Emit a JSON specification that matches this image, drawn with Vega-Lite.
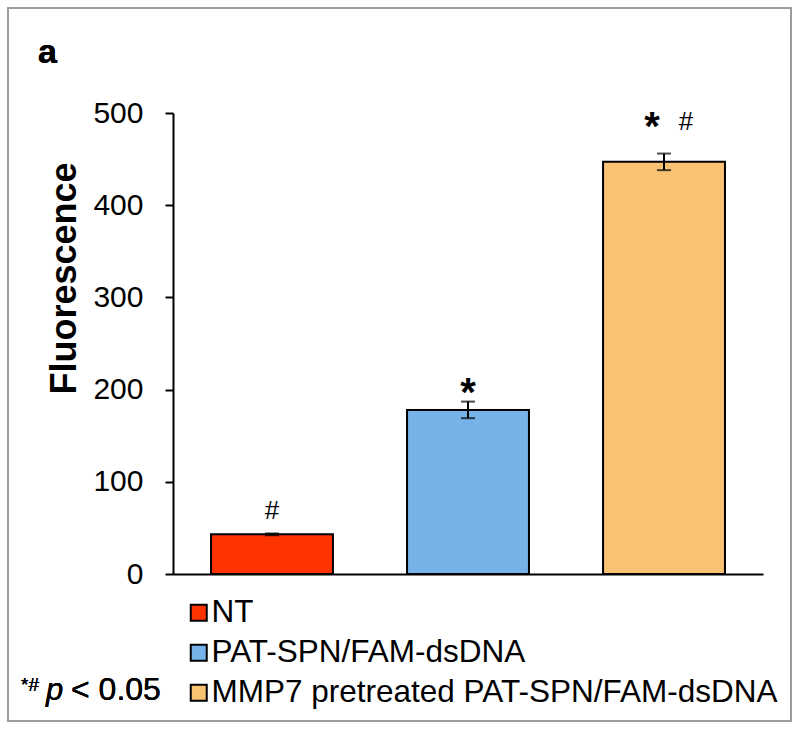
{
  "$schema": "https://vega.github.io/schema/vega-lite/v6.json",
  "width": 590,
  "height": 461,
  "autosize": {"type": "none"},
  "padding": {"left": 173, "top": 113, "right": 37, "bottom": 156},
  "background": "white",
  "config": {
    "view": {"stroke": null},
    "font": "Liberation Sans",
    "axis": {"grid": false}
  },
  "data": {
    "values": [
      {"group": "NT", "value": 43, "lo": 42, "hi": 44},
      {"group": "PAT-SPN/FAM-dsDNA", "value": 178, "lo": 169, "hi": 187},
      {"group": "MMP7 pretreated PAT-SPN/FAM-dsDNA", "value": 447, "lo": 438, "hi": 456}
    ]
  },
  "encoding": {
    "x": {
      "field": "group",
      "type": "nominal",
      "sort": null,
      "scale": {"paddingInner": 0.378, "paddingOuter": 0.194},
      "axis": {"title": null, "labels": false, "ticks": false, "domainColor": "black", "domainWidth": 2}
    }
  },
  "layer": [
    {
      "mark": {"type": "rect", "fill": null, "stroke": "#9a9a9a", "strokeWidth": 1.5},
      "encoding": {
        "x": {"value": -165},
        "x2": {"value": 618},
        "y": {"value": -105},
        "y2": {"value": 608}
      }
    },
    {
      "mark": {"type": "bar", "stroke": "black", "strokeWidth": 2},
      "encoding": {
        "y": {
          "field": "value",
          "type": "quantitative",
          "title": "Fluorescence",
          "scale": {"domain": [0, 500], "nice": false},
          "axis": {
            "titleFontSize": 36,
            "titleFontWeight": "bold",
            "titleColor": "black",
            "titleY": 165,
            "titleX": -98,
            "titleAlign": "center",
            "titleAngle": -90,
            "titleBaseline": "alphabetic",
            "values": [0, 100, 200, 300, 400, 500],
            "labelFontSize": 30,
            "labelColor": "black",
            "labelPadding": 22,
            "tickSize": 8,
            "tickColor": "black",
            "tickWidth": 2,
            "domainColor": "black",
            "domainWidth": 2
          }
        },
        "fill": {
          "field": "group",
          "type": "nominal",
          "sort": null,
          "scale": {
            "domain": ["NT", "PAT-SPN/FAM-dsDNA", "MMP7 pretreated PAT-SPN/FAM-dsDNA"],
            "range": ["#FF3300", "#74B2E8", "#F8C272"]
          },
          "legend": {
            "title": null,
            "orient": "none",
            "legendX": 10,
            "legendY": 484,
            "symbolType": "square",
            "symbolSize": 256,
            "symbolStrokeColor": "black",
            "symbolStrokeWidth": 2,
            "labelFontSize": 31.5,
            "labelColor": "black",
            "labelOffset": -3,
            "rowPadding": 7,
            "labelLimit": 800
          }
        }
      }
    },
    {
      "mark": {"type": "errorbar", "ticks": {"size": 14, "thickness": 2, "color": "black"}, "rule": {"strokeWidth": 2, "color": "black"}},
      "encoding": {
        "y": {"field": "lo", "type": "quantitative", "title": "Fluorescence"},
        "y2": {"field": "hi"}
      }
    },
    {
      "transform": [{"filter": "datum.group === 'PAT-SPN/FAM-dsDNA'"}],
      "mark": {"type": "text", "text": "*", "fontSize": 40, "fontWeight": "bold", "baseline": "alphabetic", "dy": 4, "color": "black"},
      "encoding": {
        "y": {"field": "hi", "type": "quantitative", "title": "Fluorescence"}
      }
    },
    {
      "transform": [{"filter": "datum.group === 'MMP7 pretreated PAT-SPN/FAM-dsDNA'"}],
      "mark": {"type": "text", "text": "*", "fontSize": 40, "fontWeight": "bold", "baseline": "alphabetic", "dx": -12, "dy": -14, "color": "black"},
      "encoding": {
        "y": {"field": "hi", "type": "quantitative", "title": "Fluorescence"}
      }
    },
    {
      "transform": [{"filter": "datum.group === 'NT'"}],
      "mark": {"type": "text", "text": "#", "fontSize": 26, "baseline": "alphabetic", "dy": -14, "color": "black"},
      "encoding": {
        "y": {"field": "hi", "type": "quantitative", "title": "Fluorescence"}
      }
    },
    {
      "transform": [{"filter": "datum.group === 'MMP7 pretreated PAT-SPN/FAM-dsDNA'"}],
      "mark": {"type": "text", "text": "#", "fontSize": 26, "baseline": "alphabetic", "dx": 22, "dy": -24, "color": "black"},
      "encoding": {
        "y": {"field": "hi", "type": "quantitative", "title": "Fluorescence"}
      }
    },
    {
      "mark": {"type": "text", "fontSize": 34, "fontWeight": "bold", "align": "left", "baseline": "alphabetic", "color": "black"},
      "encoding": {"x": {"value": -135}, "y": {"value": -50}, "text": {"value": "a"}}
    },
    {
      "mark": {"type": "text", "fontSize": 19, "fontWeight": "normal", "align": "left", "baseline": "alphabetic", "color": "black"},
      "encoding": {"x": {"value": -152}, "y": {"value": 578}, "text": {"value": "*#"}}
    },
    {
      "mark": {"type": "text", "fontSize": 31, "fontStyle": "italic", "fontWeight": "normal", "align": "left", "baseline": "alphabetic", "color": "black"},
      "encoding": {"x": {"value": -127}, "y": {"value": 587}, "text": {"value": "p"}}
    },
    {
      "mark": {"type": "text", "fontSize": 32, "fontWeight": "normal", "align": "left", "baseline": "alphabetic", "color": "black"},
      "encoding": {"x": {"value": -102}, "y": {"value": 587}, "text": {"value": "< 0.05"}}
    }
  ]
}
